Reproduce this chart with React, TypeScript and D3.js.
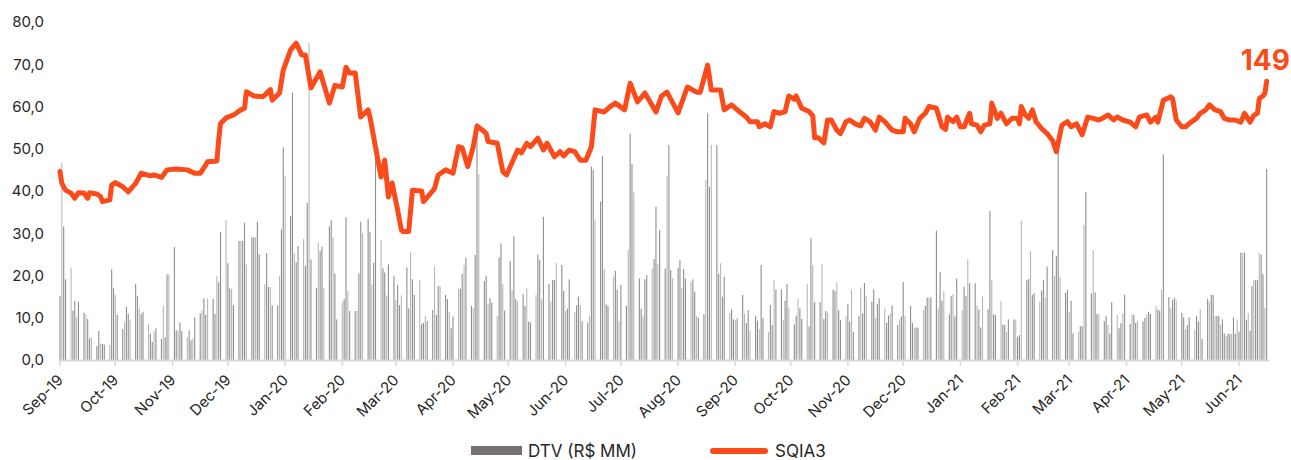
import { useEffect } from "react";
import * as d3 from "d3";

// daily traded volume (R$ MM), one value per trading day, row = one week
const dtv: number[] = [
  15.1, 46.7, 31.6, 19.1, // Sep-19 (from 3rd)
  21.9, 11.7, 14.0, 10.1, 13.8,
  11.2, 10.7, 9.7, 5.1, 5.4,
  3.3, 6.9, 3.9, 3.8, 3.7,
  3.6, 21.5, 17.0, 15.4, 10.8,
  7.3, 9.0, 12.6, 10.9, 9.5,
  18.0, 15.1, 12.2, 10.9, 11.4,
  8.5, 6.2, 4.3, 6.9, 7.5,
  5.0, 12.9, 5.4, 20.3, 20.3,
  26.7, 7.0, 7.0, 8.9, 6.9,
  5.4, 7.0, 4.7, 5.1, 10.1,
  11.0, 11.7, 14.6, 10.7, 14.6,
  14.4, 10.9, 19.9, 18.4, 30.3,
  33.1, 22.9, 17.0, 16.8, 13.0,
  28.2, 28.2, 28.2, 32.5, 22.6,
  29.0, 29.0, 29.0, 32.7, 25.0,
  17.9, 25.3, 17.3, 17.2, 13.0,
  12.9, 19.9, 30.9, 50.3, 43.6,
  34.1, 63.3, 25.3, 23.1, 27.0,
  28.6, 22.3, 37.2, 75.1, 23.8,
  17.1, 27.9, 25.8, 26.8, 17.1,
  31.6, 33.1, 29.0, 20.5, 9.6,
  13.6, 14.4, 33.8, 16.3, 11.6,
  11.6, 11.6, 20.5, 32.7, 30.0,
  33.4, 30.3, 17.9, 23.0, 48.9,
  28.4, 21.7, 20.7, 15.3, 22.6,
  19.9, 14.2, 17.8, 13.0, 15.3,
  21.9, 12.2, 25.5, 19.1, 15.4,
  18.9, 8.5, 8.8, 10.4, 9.2,
  11.8, 22.2, 10.7, 17.5, 17.5,
  15.4, 14.4, 11.4, 7.5, 10.3,
  16.9, 16.9, 20.4, 22.5, 24.2,
  12.8, 12.2, 24.9, 56.0, 44.0,
  18.7, 19.9, 13.3, 14.6, 13.6,
  10.4, 24.3, 27.6, 17.9, 11.7,
  23.4, 16.6, 29.3, 14.4, 13.9,
  15.6, 12.8, 17.0, 9.1, 8.9,
  15.4, 25.0, 23.7, 14.4, 33.9,
  18.0, 13.8, 18.9, 18.9, 23.0,
  22.5, 16.4, 11.6, 12.2, 19.1,
  11.3, 13.0, 15.0, 13.0, 9.2,
  8.9, 10.5, 45.8, 45.0, 33.3,
  37.5, 48.3, 21.5, 13.2, 12.8,
  19.7, 21.1, 16.6, 9.2, 17.8,
  12.8, 26.0, 53.6, 46.4, 39.7,
  19.3, 12.2, 10.3, 19.1, 20.1,
  21.7, 23.9, 36.3, 22.7, 30.8,
  21.7, 43.6, 50.9, 21.3, 19.3,
  21.8, 23.7, 17.1, 21.5, 19.3,
  18.5, 19.1, 16.2, 10.4, 10.0,
  10.8, 42.6, 58.4, 41.0, 50.9,
  50.9, 20.4, 22.9, 15.0, 19.7,
  11.2, 12.0, 9.6, 9.5, 9.8,
  15.4, 11.0, 8.7, 11.8, 6.9,
  10.5, 9.3, 7.3, 22.5, 9.9,
  6.7, 13.0, 8.3, 18.9, 16.7,
  16.7, 9.5, 14.0, 18.0, 12.4,
  8.4, 10.5, 14.4, 12.2, 9.7,
  17.9, 7.9, 28.8, 22.5, 13.7,
  13.7, 22.7, 9.7, 11.6, 11.3,
  16.6, 16.3, 18.3, 11.8, 9.5,
  10.3, 13.2, 9.1, 16.7, 6.7,
  10.4, 17.2, 11.0, 18.2, 15.2,
  13.8, 16.7, 9.9, 13.2, 14.6,
  12.2, 8.8, 10.5, 11.0, 12.9,
  8.3, 9.6, 10.3, 18.5, 10.4,
  12.8, 8.8, 7.7, 7.7, 7.7,
  11.8, 12.8, 14.8, 14.8, 14.8,
  30.6, 12.2, 20.8, 14.0, 16.3,
  10.8, 15.1, 15.6, 10.3, 19.3,
  11.8, 17.3, 15.1, 23.8, 18.2,
  18.2, 12.9, 12.0, 7.7, 15.0,
  12.0, 35.3, 18.9, 10.8, 10.6,
  14.0, 8.4, 8.3, 6.7, 9.6,
  9.6, 9.6, 5.5, 5.9, 33.0,
  18.9, 19.2, 25.8, 15.4, 15.8,
  13.8, 16.4, 18.9, 14.8, 22.1,
  26.0, 19.9, 24.6, 50.5, 19.6,
  15.9, 16.6, 11.4, 14.0, 6.3,
  6.6, 8.0, 8.0, 32.0, 39.8,
  15.8, 26.0, 16.0, 10.9, 10.9,
  9.2, 10.4, 8.3, 6.3, 13.7,
  10.7, 7.5, 8.7, 11.0, 15.5,
  8.5, 10.7, 10.7, 8.8, 9.3,
  9.1, 10.0, 10.8, 11.4, 10.9,
  12.8, 12.0, 11.7, 16.6, 48.7,
  14.9, 12.2, 14.2, 14.7, 14.1,
  11.2, 10.1, 7.3, 8.3, 10.1,
  7.1, 10.4, 9.1, 12.1, 5.0,
  14.4, 13.8, 15.4, 15.4, 10.4,
  // from May 22, 2021 every calendar day
  10.4, 10.4, 8.4, 9.6, 6.3, 5.7, 6.2,
  6.2, 6.2, 10.1, 6.2, 9.5, 6.7, 25.4,
  25.4, 25.4, 9.5, 11.1, 6.9, 17.5, 18.9,
  18.9, 18.9, 25.4, 24.9, 20.3, 12.4, 45.2,
];

// SQIA3 line
const sqia3: [string, number][] = [
  ["2019-09-03", 44.6], ["2019-09-04", 41.8], ["2019-09-06", 40.2], ["2019-09-09", 39.5],
  ["2019-09-11", 38.3], ["2019-09-13", 39.6], ["2019-09-16", 39.5], ["2019-09-18", 38.3],
  ["2019-09-19", 39.6], ["2019-09-23", 39.3], ["2019-09-25", 38.7], ["2019-09-26", 37.5],
  ["2019-09-30", 37.9], ["2019-10-01", 41.4], ["2019-10-03", 42.0], ["2019-10-07", 41.0],
  ["2019-10-10", 39.8], ["2019-10-14", 41.8], ["2019-10-17", 44.2], ["2019-10-22", 43.6],
  ["2019-10-24", 43.8], ["2019-10-28", 43.2], ["2019-10-31", 45.0], ["2019-11-05", 45.2],
  ["2019-11-11", 45.0], ["2019-11-15", 44.2], ["2019-11-18", 44.2], ["2019-11-21", 46.2],
  ["2019-11-22", 46.9], ["2019-11-27", 47.1], ["2019-11-28", 52.0], ["2019-11-29", 56.0],
  ["2019-12-02", 57.3], ["2019-12-06", 58.0], ["2019-12-10", 59.2], ["2019-12-12", 59.6],
  ["2019-12-13", 63.5], ["2019-12-17", 62.5], ["2019-12-22", 62.3], ["2019-12-26", 64.0],
  ["2019-12-27", 61.5], ["2019-12-31", 63.2], ["2020-01-02", 68.6], ["2020-01-06", 73.4],
  ["2020-01-09", 75.0], ["2020-01-12", 72.2], ["2020-01-14", 72.2], ["2020-01-17", 64.4],
  ["2020-01-22", 68.2], ["2020-01-27", 60.8], ["2020-01-30", 65.0], ["2020-02-03", 64.6],
  ["2020-02-05", 69.3], ["2020-02-07", 67.9], ["2020-02-10", 67.9], ["2020-02-13", 57.5],
  ["2020-02-17", 59.2], ["2020-02-18", 57.5], ["2020-02-21", 50.4], ["2020-02-24", 43.3],
  ["2020-02-26", 47.3], ["2020-02-28", 38.6], ["2020-03-01", 41.9], ["2020-03-04", 35.5],
  ["2020-03-06", 30.8], ["2020-03-07", 30.4], ["2020-03-10", 30.4], ["2020-03-12", 40.2],
  ["2020-03-17", 40.0], ["2020-03-18", 37.5], ["2020-03-21", 39.0], ["2020-03-24", 40.6],
  ["2020-03-26", 43.8], ["2020-03-30", 45.0], ["2020-04-03", 44.2], ["2020-04-06", 50.5],
  ["2020-04-08", 50.2], ["2020-04-11", 45.8], ["2020-04-14", 50.5], ["2020-04-16", 55.4],
  ["2020-04-19", 54.4], ["2020-04-21", 53.6], ["2020-04-22", 51.7], ["2020-04-27", 51.3],
  ["2020-04-30", 44.6], ["2020-05-02", 43.8], ["2020-05-06", 47.7], ["2020-05-08", 49.7],
  ["2020-05-10", 49.0], ["2020-05-13", 51.3], ["2020-05-15", 50.5], ["2020-05-19", 52.5],
  ["2020-05-22", 49.7], ["2020-05-24", 51.3], ["2020-05-28", 48.1], ["2020-05-31", 49.3],
  ["2020-06-02", 48.3], ["2020-06-05", 49.7], ["2020-06-08", 49.3], ["2020-06-11", 47.3],
  ["2020-06-14", 47.3], ["2020-06-17", 50.4], ["2020-06-19", 59.2], ["2020-06-24", 58.7],
  ["2020-06-27", 59.9], ["2020-06-30", 60.8], ["2020-07-05", 59.2], ["2020-07-08", 65.5],
  ["2020-07-12", 61.1], ["2020-07-16", 63.2], ["2020-07-22", 58.7], ["2020-07-25", 62.5],
  ["2020-07-28", 63.4], ["2020-08-03", 58.5], ["2020-08-08", 64.6], ["2020-08-13", 63.4],
  ["2020-08-15", 63.4], ["2020-08-19", 69.8], ["2020-08-21", 63.9], ["2020-08-26", 63.9],
  ["2020-08-28", 59.2], ["2020-09-01", 60.4], ["2020-09-06", 58.5], ["2020-09-09", 57.5],
  ["2020-09-11", 56.4], ["2020-09-15", 56.4], ["2020-09-16", 55.2], ["2020-09-19", 55.9],
  ["2020-09-22", 55.2], ["2020-09-24", 58.8], ["2020-09-27", 58.4], ["2020-09-30", 58.8],
  ["2020-10-02", 62.5], ["2020-10-05", 61.7], ["2020-10-06", 62.5], ["2020-10-09", 59.6],
  ["2020-10-13", 58.8], ["2020-10-15", 57.8], ["2020-10-16", 52.6], ["2020-10-18", 52.6],
  ["2020-10-21", 51.4], ["2020-10-23", 56.8], ["2020-10-25", 56.8], ["2020-10-28", 54.4],
  ["2020-10-30", 53.6], ["2020-11-02", 56.4], ["2020-11-04", 56.8], ["2020-11-07", 55.9],
  ["2020-11-10", 55.4], ["2020-11-12", 57.2], ["2020-11-15", 56.4], ["2020-11-18", 54.4],
  ["2020-11-20", 57.5], ["2020-11-23", 56.4], ["2020-11-27", 54.4], ["2020-11-30", 54.0],
  ["2020-12-03", 54.0], ["2020-12-04", 57.2], ["2020-12-07", 55.9], ["2020-12-09", 54.0],
  ["2020-12-12", 57.2], ["2020-12-15", 58.4], ["2020-12-17", 60.0], ["2020-12-21", 59.6],
  ["2020-12-24", 55.2], ["2020-12-26", 54.6], ["2020-12-27", 57.5], ["2020-12-30", 56.4],
  ["2021-01-01", 57.5], ["2021-01-03", 55.2], ["2021-01-05", 55.2], ["2021-01-08", 58.4],
  ["2021-01-09", 55.9], ["2021-01-12", 55.6], ["2021-01-14", 54.0], ["2021-01-16", 55.6],
  ["2021-01-19", 55.9], ["2021-01-20", 60.8], ["2021-01-23", 57.2], ["2021-01-25", 58.4],
  ["2021-01-28", 55.9], ["2021-01-31", 57.2], ["2021-02-03", 57.2], ["2021-02-04", 55.9],
  ["2021-02-05", 60.0], ["2021-02-07", 58.1], ["2021-02-09", 57.2], ["2021-02-11", 59.2],
  ["2021-02-13", 56.4], ["2021-02-16", 54.8], ["2021-02-19", 53.6], ["2021-02-22", 51.9],
  ["2021-02-24", 49.3], ["2021-02-27", 55.6], ["2021-03-02", 56.4], ["2021-03-04", 55.2],
  ["2021-03-07", 55.9], ["2021-03-10", 53.3], ["2021-03-13", 57.5], ["2021-03-16", 57.2],
  ["2021-03-19", 56.8], ["2021-03-21", 57.2], ["2021-03-24", 58.0], ["2021-03-27", 56.8],
  ["2021-03-29", 57.5], ["2021-04-01", 56.8], ["2021-04-05", 56.3], ["2021-04-08", 55.2],
  ["2021-04-10", 57.5], ["2021-04-14", 58.0], ["2021-04-16", 56.3], ["2021-04-19", 57.5],
  ["2021-04-20", 56.3], ["2021-04-23", 61.5], ["2021-04-27", 62.3], ["2021-04-28", 61.9],
  ["2021-04-30", 56.8], ["2021-05-03", 55.2], ["2021-05-05", 55.2], ["2021-05-08", 56.3],
  ["2021-05-11", 57.2], ["2021-05-13", 58.4], ["2021-05-16", 59.2], ["2021-05-18", 60.4],
  ["2021-05-21", 59.2], ["2021-05-24", 58.8], ["2021-05-26", 57.2], ["2021-05-29", 56.8],
  ["2021-06-01", 56.8], ["2021-06-04", 56.3], ["2021-06-06", 58.4], ["2021-06-09", 56.3],
  ["2021-06-11", 57.9], ["2021-06-13", 58.4], ["2021-06-14", 61.9], ["2021-06-16", 62.5],
  ["2021-06-17", 63.1], ["2021-06-18", 66.0],
];

const yTicks = [0, 10, 20, 30, 40, 50, 60, 70, 80];
const lastLabel = "149";
const legendBar = "DTV (R$ MM)";
const legendLine = "SQIA3";

const ORANGE = "#FC4B1A";
const FONT = "Inter, 'Noto Sans', sans-serif";

const parse = d3.timeParse("%Y-%m-%d");
const fmtMonth = d3.timeFormat("%b-%y");
const fmtY = (v: number) => d3.format(".1f")(v).replace(".", ",");

const App = () => {
  useEffect(() => {
    document.body.style.margin = "0";
  }, []);

  const width = 1291;
  const height = 460;

  // trading days; the last weeks of the file have a value for every day
  const start = new Date(2019, 8, 3);
  const denseFrom = new Date(2021, 4, 22);
  const stop = new Date(2021, 5, 19);
  const days = d3
    .timeDay.range(start, stop)
    .filter((d) => d >= denseFrom || (d.getDay() !== 0 && d.getDay() !== 6));
  const bars = days.slice(0, dtv.length).map((d, i) => ({ date: d, value: dtv[i] }));

  const x = d3
    .scaleTime()
    .domain([new Date(2019, 8, 3), new Date(2021, 5, 3)])
    .range([60, 1239]);
  const y = d3.scaleLinear().domain([0, 80]).range([360, 22]);

  const monthTicks = d3
    .timeMonth.range(new Date(2019, 8, 1), new Date(2021, 6, 1))
    .map((d) => d3.timeDay.offset(d, 2));

  const linePts = sqia3.map(([d, v]) => ({ date: parse(d) as Date, value: v }));
  const line = d3
    .line<{ date: Date; value: number }>()
    .x((d) => x(d.date))
    .y((d) => y(d.value));

  const axisEnd = x(stop) + 1;

  return (
    <svg
      width={width}
      height={height}
      style={{ display: "block", position: "absolute", left: 0, top: 0, background: "#fff" }}
      fontFamily={FONT}
    >
      <g id="bars">
        {bars.map((b, i) => (
          <rect
            key={i}
            x={x(b.date) - 0.55}
            y={y(b.value)}
            width={1.1}
            height={y(0) - y(b.value)}
            fill={i % 3 === 1 ? "#b8b8b8" : "#8f8f8f"}
          />
        ))}
      </g>

      <line x1={59} x2={axisEnd} y1={y(0) + 0.5} y2={y(0) + 0.5} stroke="#d9d9d9" strokeWidth={2} />
      {monthTicks.map((t, i) => (
        <g key={i}>
          <line x1={x(t)} x2={x(t)} y1={y(0) + 1} y2={y(0) + 6} stroke="#d9d9d9" strokeWidth={1.5} />
          <text
            transform={`translate(${x(t) + 4},381) rotate(-45)`}
            textAnchor="end"
            fontSize={15}
            fill="#262626"
          >
            {fmtMonth(t)}
          </text>
        </g>
      ))}

      {yTicks.map((v) => (
        <text key={v} x={44} y={y(v)} dy="0.35em" textAnchor="end" fontSize={15} fill="#262626">
          {fmtY(v)}
        </text>
      ))}

      <path
        d={line(linePts) ?? ""}
        fill="none"
        stroke={ORANGE}
        strokeWidth={5}
        strokeLinejoin="round"
        strokeLinecap="round"
      />

      <text x={1290} y={70} textAnchor="end" fontSize={28} fontWeight={700} fill={ORANGE}>
        {lastLabel}
      </text>

      <g id="legend">
        <rect x={471} y={446} width={51} height={9} fill="#767171" />
        <text x={528} y={457} fontSize={17} fill="#262626">
          {legendBar}
        </text>
        <line x1={713} x2={765} y1={451} y2={451} stroke={ORANGE} strokeWidth={6} strokeLinecap="round" />
        <text x={775} y={457} fontSize={17} fill="#262626">
          {legendLine}
        </text>
      </g>
    </svg>
  );
};

export default App;
